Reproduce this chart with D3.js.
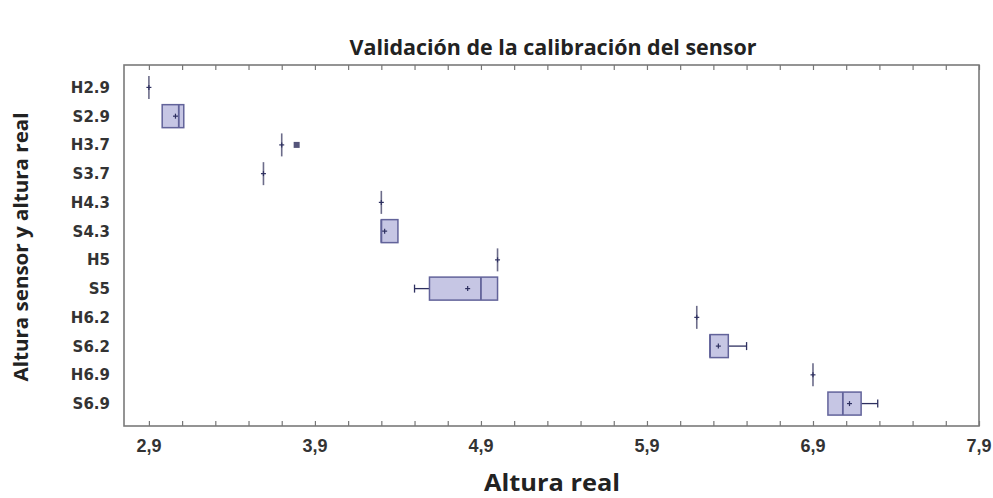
<!DOCTYPE html>
<html>
<head>
<meta charset="utf-8">
<script src="https://cdn.jsdelivr.net/npm/d3@7"></script>
<style>
  html, body { margin: 0; padding: 0; background: #fff; }
  svg { display: block; }
</style>
</head>
<body>
<svg id="chart" width="993" height="498"></svg>
<script>
// Box-and-whisker summary per group: H = real height, S = sensor reading
const categories = ["H2.9","S2.9","H3.7","S3.7","H4.3","S4.3","H5","S5","H6.2","S6.2","H6.9","S6.9"];
const whiskerLow  = [2.90, 2.98, 3.70, 3.59, 4.30, 4.30, 5.00, 4.50, 6.20, 6.28, 6.90, 6.99];
const q1          = [2.90, 2.98, 3.70, 3.59, 4.30, 4.30, 5.00, 4.59, 6.20, 6.28, 6.90, 6.99];
const medians     = [2.90, 3.08, 3.70, 3.59, 4.30, 4.30, 5.00, 4.90, 6.20, 6.28, 6.90, 7.08];
const q3          = [2.90, 3.11, 3.70, 3.59, 4.30, 4.40, 5.00, 5.00, 6.20, 6.39, 6.90, 7.19];
const whiskerHigh = [2.90, 3.11, 3.70, 3.59, 4.30, 4.40, 5.00, 5.00, 6.20, 6.50, 6.90, 7.29];
const means       = [2.90, 3.06, 3.70, 3.59, 4.30, 4.32, 5.00, 4.82, 6.20, 6.33, 6.90, 7.12];
const outlierCats = ["H3.7"];
const outlierVals = [3.79];
const tickValues  = [2.9, 3.9, 4.9, 5.9, 6.9, 7.9];

const svg = d3.select("#chart");
const plotLeft = 124, plotRight = 979, plotTop = 65, plotBottom = 426;

const x = d3.scaleLinear().domain([2.75, 7.9]).range([plotLeft, plotRight]);
const y = d3.scalePoint().domain(categories).range([plotTop, plotBottom]).padding(0.78);

const boxH = 23;
const fill = "#c6c6e4", stroke = "#62639a", dark = "#2e3060";

// frame
svg.append("rect")
  .attr("x", plotLeft).attr("y", plotTop)
  .attr("width", plotRight - plotLeft).attr("height", plotBottom - plotTop)
  .attr("fill", "none").attr("stroke", "#7a7a7a").attr("stroke-width", 1.6);

// ticks every 0.2 on bottom and top edges, pointing inward
const minor = d3.range(2.9, 7.95, 0.2).map(v => +v.toFixed(2));
const gb = svg.append("g").attr("transform", `translate(0,${plotBottom})`)
  .call(d3.axisBottom(x).tickValues(minor).tickSize(-5).tickFormat(""));
const gt = svg.append("g").attr("transform", `translate(0,${plotTop})`)
  .call(d3.axisTop(x).tickValues(minor).tickSize(-5).tickFormat(""));
[gb, gt].forEach(g => {
  g.select(".domain").remove();
  g.selectAll(".tick line").attr("stroke", "#777").attr("stroke-width", 1.2);
});

// tick labels
const fmt = v => d3.format(".1f")(v).replace(".", ",");
svg.append("g").selectAll("text").data(tickValues).join("text")
  .attr("x", d => x(d)).attr("y", 452)
  .attr("text-anchor", "middle")
  .attr("font-family", "'Liberation Sans Narrow', 'Liberation Sans', Arial, sans-serif")
  .attr("font-weight", "bold").attr("font-size", 18)
  .attr("fill", "#333")
  .text(fmt);

// category labels
svg.append("g").selectAll("text").data(categories).join("text")
  .attr("x", 110).attr("y", d => y(d) + 5.5)
  .attr("text-anchor", "end")
  .attr("font-family", "'DejaVu Sans', sans-serif").attr("font-weight", "bold").attr("font-size", 15)
  .attr("fill", "#333")
  .text(d => d);

// boxes
const rows = categories.map((c, i) => ({
  c, lo: whiskerLow[i], q1: q1[i], med: medians[i], q3: q3[i], hi: whiskerHigh[i], mean: means[i]
}));

const g = svg.append("g");
rows.forEach(r => {
  const cy = y(r.c);
  if (r.lo < r.q1) {
    g.append("line").attr("x1", x(r.lo)).attr("x2", x(r.q1)).attr("y1", cy).attr("y2", cy)
      .attr("stroke", dark).attr("stroke-width", 1.3);
    g.append("line").attr("x1", x(r.lo)).attr("x2", x(r.lo)).attr("y1", cy - 4).attr("y2", cy + 4)
      .attr("stroke", dark).attr("stroke-width", 1.3);
  }
  if (r.hi > r.q3) {
    g.append("line").attr("x1", x(r.q3)).attr("x2", x(r.hi)).attr("y1", cy).attr("y2", cy)
      .attr("stroke", dark).attr("stroke-width", 1.3);
    g.append("line").attr("x1", x(r.hi)).attr("x2", x(r.hi)).attr("y1", cy - 4).attr("y2", cy + 4)
      .attr("stroke", dark).attr("stroke-width", 1.3);
  }
  if (r.q3 > r.q1) {
    g.append("rect")
      .attr("x", x(r.q1)).attr("y", cy - boxH / 2)
      .attr("width", x(r.q3) - x(r.q1)).attr("height", boxH)
      .attr("fill", fill).attr("stroke", stroke).attr("stroke-width", 1.5);
    g.append("line").attr("x1", x(r.med)).attr("x2", x(r.med))
      .attr("y1", cy - boxH / 2).attr("y2", cy + boxH / 2)
      .attr("stroke", stroke).attr("stroke-width", 1.8);
  } else {
    // degenerate box: all values equal
    g.append("line").attr("x1", x(r.q1)).attr("x2", x(r.q1))
      .attr("y1", cy - boxH / 2).attr("y2", cy + boxH / 2)
      .attr("stroke", "#6c6c8a").attr("stroke-width", 1.6);
  }
  // mean marker
  g.append("line").attr("x1", x(r.mean) - 2.5).attr("x2", x(r.mean) + 2.5).attr("y1", cy).attr("y2", cy)
    .attr("stroke", dark).attr("stroke-width", 1.2);
  g.append("line").attr("x1", x(r.mean)).attr("x2", x(r.mean)).attr("y1", cy - 2.5).attr("y2", cy + 2.5)
    .attr("stroke", dark).attr("stroke-width", 1.2);
});

// outliers
outlierCats.forEach((c, i) => {
  g.append("rect")
    .attr("x", x(outlierVals[i]) - 3).attr("y", y(c) - 3)
    .attr("width", 6).attr("height", 6)
    .attr("fill", "#55557a");
});

// titles
svg.append("text")
  .attr("x", 553).attr("y", 55).attr("text-anchor", "middle")
  .attr("font-family", "'Open Sans', sans-serif").attr("font-weight", "bold").attr("font-size", 22)
  .attr("textLength", 407).attr("lengthAdjust", "spacingAndGlyphs")
  .attr("fill", "#222")
  .text("Validación de la calibración del sensor");

svg.append("text")
  .attr("x", 552).attr("y", 491).attr("text-anchor", "middle")
  .attr("font-family", "'Open Sans', sans-serif").attr("font-weight", "bold").attr("font-size", 24)
  .attr("textLength", 136).attr("lengthAdjust", "spacingAndGlyphs")
  .attr("fill", "#222")
  .text("Altura real");

svg.append("text")
  .attr("transform", "translate(28,247) rotate(-90)")
  .attr("text-anchor", "middle")
  .attr("font-family", "'Open Sans', sans-serif").attr("font-weight", "bold").attr("font-size", 19)
  .attr("textLength", 269).attr("lengthAdjust", "spacingAndGlyphs")
  .attr("fill", "#222")
  .text("Altura sensor y altura real");
</script>
</body>
</html>
